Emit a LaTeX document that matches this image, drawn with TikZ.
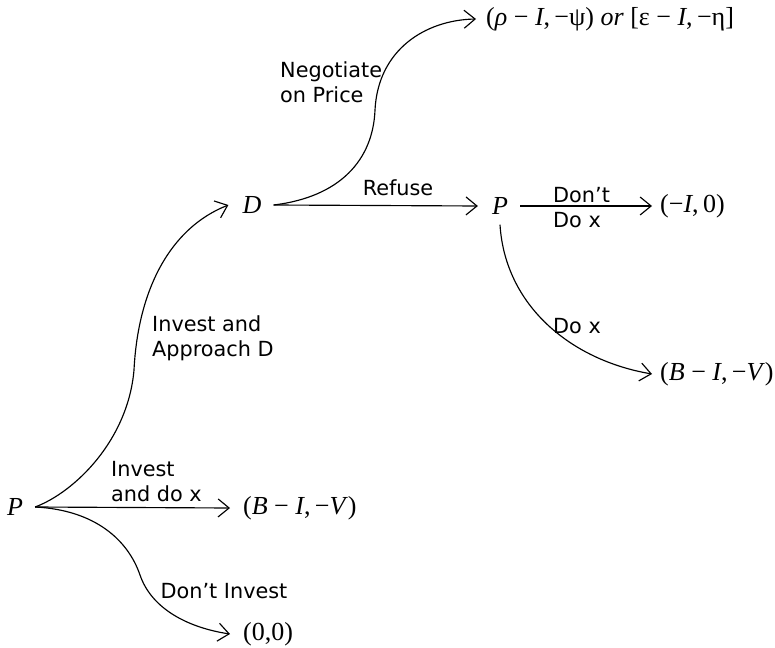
\documentclass[tikz,border=0pt]{standalone}
\usepackage{fontspec}
\setmainfont{DejaVu Sans}
\newfontfamily\mf{Liberation Serif}
\usetikzlibrary{arrows.meta}
\newcommand{\ms}{\hspace{0.25em}}
\begin{document}
\begin{tikzpicture}[x=1pt,y=-1pt,
  lab/.style={font=\fontsize{20.8}{25}\selectfont, inner sep=0pt, align=left},
  mth/.style={font=\fontsize{26}{30}\selectfont\mf, inner sep=0pt},
  ln/.style={line width=1.15pt},
  arr/.style={ln, -{Straight Barb[length=11pt,width=18pt,line width=1.15pt]}},
  ]
\useasboundingbox (0,0) rectangle (775,647);
% decision and outcome nodes
\node[mth] (P0) at (15,507) {\textit{P}};
\node[mth,anchor=west] (o1) at (243,508) {(\textit{B}\ms−\ms\textit{I},\,−\textit{V})};
\node[mth,anchor=west] (o2) at (243,634) {(0,0)};
\node[mth] (D) at (252,205) {\textit{D}};
\node[mth] (P1) at (500,206) {\textit{P}};
\node[mth,anchor=west] (o3) at (660,206) {(−\textit{I},\,0)};
\node[mth,anchor=west] (o4) at (660,374) {(\textit{B}\ms−\ms\textit{I},\,−\textit{V})};
\node[mth,anchor=west] (o5) at (486,19) {(\textit{ρ}\ms−\ms\textit{I},\,−ψ) \textit{or} [ε\ms−\ms\textit{I},\,−η]};
% connectors
\draw[arr] ([xshift=12pt]P0.east) -- ([xshift=-13pt]o1.west);
\draw[arr] ([xshift=12pt]P0.east) .. controls (75,492) and (128,440) .. (134,370)
  .. controls (138,290) and (170,228) .. ([xshift=-14pt]D.west);
\draw[arr] ([xshift=12pt]P0.east) .. controls (95,510) and (128,540) .. (140,575)
  .. controls (152,610) and (190,628) .. ([xshift=-13pt]o2.west);
\draw[arr] ([xshift=12pt]D.east) -- ([xshift=-14pt]P1.west);
\draw[arr] ([xshift=12pt]D.east) .. controls (340,197) and (373,160) .. (375,110)
  .. controls (378,50) and (425,20) .. ([xshift=-10pt]o5.west);
\draw[arr] ([xshift=12pt]P1.east) -- ([xshift=-8pt]o3.west);
\draw[arr] ([yshift=-10pt]P1.south) .. controls (505,305) and (570,360) .. ([xshift=-8pt]o4.west);
% labels
\node[lab,anchor=west] (l1) at (111,482) {Invest\\and do x};
\node[lab] (l2) at (224,591) {Don’t Invest};
\node[lab,anchor=west] (l3) at (152,338) {Invest and\\Approach D};
\node[lab] (l4) at (398,188) {Refuse};
\node[lab,anchor=west] (l5) at (553,208) {Don’t\\Do x};
\node[lab] (l6) at (577,326) {Do x};
\node[lab,anchor=west] (l7) at (280,82) {Negotiate\\on Price};
\end{tikzpicture}
\end{document}
